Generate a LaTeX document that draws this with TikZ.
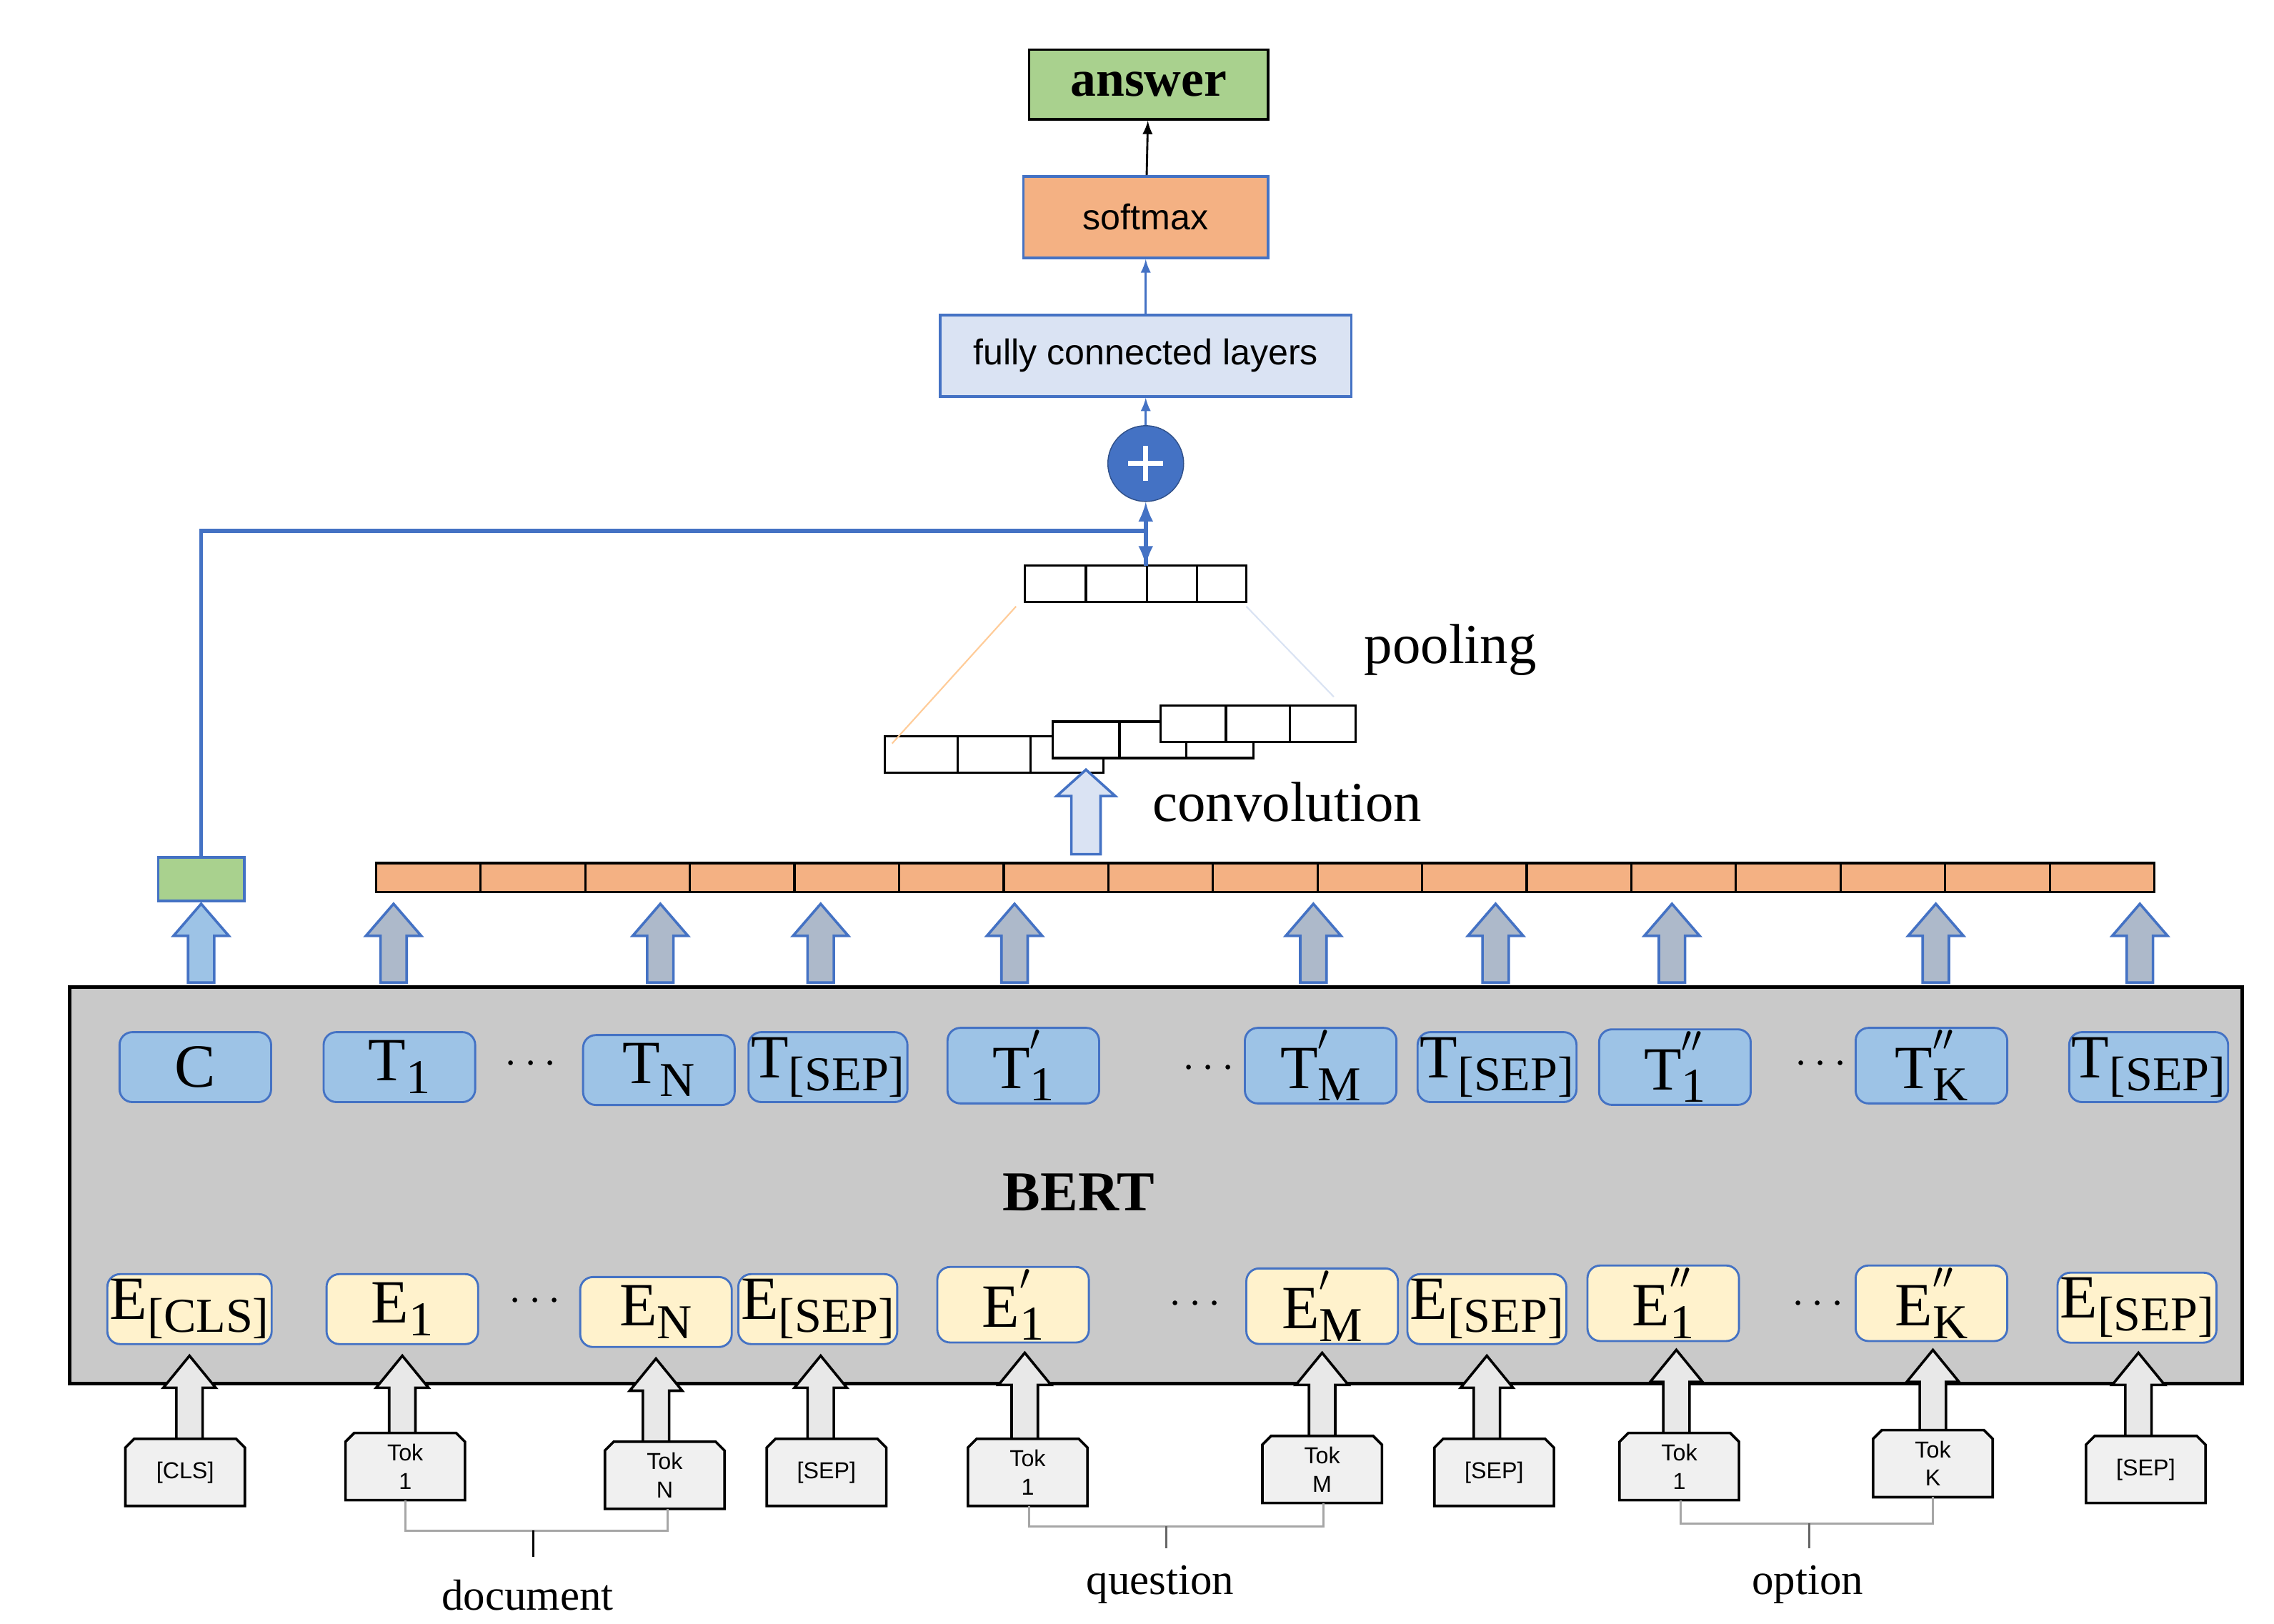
\documentclass[tikz,border=0pt]{standalone}
\usepackage{fontspec}
\setmainfont{Liberation Serif}
\setsansfont{Liberation Sans}
\definecolor{bblue}{HTML}{4472C4}
\definecolor{tfill}{HTML}{9DC3E6}
\definecolor{efill}{HTML}{FFF2CC}
\definecolor{ofill}{HTML}{F4B183}
\definecolor{gfill}{HTML}{A9D18E}
\definecolor{lfill}{HTML}{DAE3F3}
\definecolor{afill}{HTML}{ADB9CA}
\newcommand\tk[3]{#1\makebox[0pt][l]{\raisebox{0.75ex}{\fontsize{19}{19}\selectfont#2}}\raisebox{-0.45ex}{\fontsize{19}{19}\selectfont#3}}
\newcommand\hollowup[6]{% x, ybottom, ytop, halfshaft, halfhead, headlen
  (#1-#4,#2) -- (#1-#4,#3+#6) -- (#1-#5,#3+#6) -- (#1,#3) -- (#1+#5,#3+#6) -- (#1+#4,#3+#6) -- (#1+#4,#2) -- cycle}
\begin{document}
\begin{tikzpicture}[x=0.02cm,y=-0.02cm,
  tbox/.style={draw=bblue,fill=tfill,rounded corners=5pt,minimum width=2.08cm,minimum height=0.96cm,line width=0.8pt,font=\fontsize{24}{24}\selectfont,inner sep=1pt},
  ebox/.style={tbox,fill=efill},
  lbl/.style={font=\fontsize{22}{22}\selectfont},
  sbox/.style={draw=bblue,line width=1pt,font=\sffamily\fontsize{14}{14}\selectfont},
  cell/.style={draw=black,fill=white,line width=0.9pt},
  garr/.style={draw=bblue,fill=afill,line width=1pt},
  warr/.style={draw=black,fill=gray!18,line width=1pt},
  tok/.style={draw=black,fill=gray!12,line width=1pt},
  brk/.style={draw=gray!70,line width=0.8pt}]
\useasboundingbox (0,0) rectangle (1560,1114);
% top
\node[draw=black,fill=gfill,line width=1pt,minimum width=3.28cm,minimum height=0.96cm,font=\bfseries\fontsize{20}{20}\selectfont] (ans) at (788,58) {answer};
\node[sbox,fill=ofill,minimum width=3.36cm,minimum height=1.12cm] (soft) at (786,149) {softmax};
\node[sbox,fill=lfill,minimum width=5.64cm,minimum height=1.12cm] (fc) at (786,244) {fully connected layers};
\node[circle,fill=bblue,draw=bblue!70!black,minimum size=1.04cm,inner sep=0pt] (plus) at (786,318) {};
\draw[white,line width=2pt] (774,318) -- (798,318) (786,306) -- (786,330);
\draw[-latex,black,line width=0.8pt] (soft) -- (ans);
\draw[-latex,bblue,line width=0.8pt] (fc) -- (soft);
\draw[-latex,bblue,line width=0.8pt] (plus) -- (fc);
% pooling
\foreach \a/\b in {703/745,745/787,787/821,821/855}{\draw[cell] (\a,388) rectangle (\b,413);}
\coordinate (pooltop) at (786,388);
\draw[-latex,bblue,line width=1.6pt] (pooltop) -- (plus);
% conv
\foreach \a/\b in {607/657,657/707,707/757}{\draw[cell] (\a,505) rectangle (\b,530);}
\foreach \a/\b in {722/768,768/814,814/860}{\draw[cell] (\a,495) rectangle (\b,520);}
\foreach \a/\b in {796/841,841/885,885/930}{\draw[cell] (\a,484) rectangle (\b,509);}
\draw[orange!40,line width=0.6pt] (697,416) -- (612,510);
\draw[bblue!20,line width=0.6pt] (855,416) -- (915,478);
\node[lbl] (pool) at (995,446) {pooling};
\node[lbl] (conv) at (883,550) {convolution};
\draw[draw=bblue,fill=lfill,line width=1pt] \hollowup{745}{586}{528}{10}{20}{18};
% feature bar
\foreach \i in {0,...,16}{\draw[draw=black,fill=ofill,line width=0.9pt] ({258+\i*71.76},592) rectangle ({258+(\i+1)*71.76},612);}
\node[draw=bblue,fill=gfill,line width=1pt,minimum width=1.18cm,minimum height=0.6cm,inner sep=0pt] (cvec) at (138,603) {};
\draw[bblue,line width=1.6pt,-latex] (cvec.north) |- (786,364) -- (pooltop);
% BERT box
\draw[fill=gray!42,draw=black,line width=1.4pt] (48,677) rectangle (1538,949);
\node[font=\bfseries\fontsize{22}{22}\selectfont] (bert) at (740,818) {BERT};
% up arrows to feature bar
\draw[draw=bblue,fill=tfill,line width=1pt] \hollowup{138}{674}{620}{9}{19}{22};
\foreach \x in {270,453,563,696,901,1026,1147,1328,1468}{\draw[garr] \hollowup{\x}{674}{620}{9}{19}{22};}
% T row
\node[tbox] (c) at (134,732) {C};
\node[tbox] (t1) at (274,732) {\tk{T}{}{1}};
\node[tbox] (tn) at (452,734) {\tk{T}{}{N}};
\node[tbox] (ts1) at (568,732) {\tk{T}{}{[SEP]}};
\node[tbox] (tp1) at (702,731) {\tk{T}{$'$}{1}};
\node[tbox] (tpm) at (906,731) {\tk{T}{$'$}{M}};
\node[tbox] (ts2) at (1027,732) {\tk{T}{}{[SEP]}};
\node[tbox] (tq1) at (1149,732) {\tk{T}{$''$}{1}};
\node[tbox] (tqk) at (1325,731) {\tk{T}{$''$}{K}};
\node[tbox] (ts3) at (1474,732) {\tk{T}{}{[SEP]}};
\node[font=\fontsize{16}{16}\selectfont] (d1) at (364,730) {$\cdots$};
\node[font=\fontsize{16}{16}\selectfont] (d2) at (829,733) {$\cdots$};
\node[font=\fontsize{16}{16}\selectfont] (d3) at (1249,730) {$\cdots$};
% E row
\node[ebox] (ecls) at (130,898) {\tk{E}{}{[CLS]}};
\node[ebox] (e1) at (276,898) {\tk{E}{}{1}};
\node[ebox] (en) at (450,900) {\tk{E}{}{N}};
\node[ebox] (es1) at (561,898) {\tk{E}{}{[SEP]}};
\node[ebox] (ep1) at (695,895) {\tk{E}{$'$}{1}};
\node[ebox] (epm) at (907,896) {\tk{E}{$'$}{M}};
\node[ebox] (es2) at (1020,898) {\tk{E}{}{[SEP]}};
\node[ebox] (eq1) at (1141,894) {\tk{E}{$''$}{1}};
\node[ebox] (eqk) at (1325,894) {\tk{E}{$''$}{K}};
\node[ebox] (es3) at (1466,897) {\tk{E}{}{[SEP]}};
\node[font=\fontsize{16}{16}\selectfont] (d4) at (367,893) {$\cdots$};
\node[font=\fontsize{16}{16}\selectfont] (d5) at (820,895) {$\cdots$};
\node[font=\fontsize{16}{16}\selectfont] (d6) at (1247,895) {$\cdots$};
% input arrows
\foreach \x/\yt in {130/930,276/930,450/932,563/930,703/928,907/928,1020/930,1150/926,1326/926,1467/928}{\draw[warr] \hollowup{\x}{990}{\yt}{9}{18}{22};}
% token boxes
\foreach \x/\y/\t/\nm in {127/987/{[CLS]}/k1,278/983/{Tok\\1}/k2,456/989/{Tok\\N}/k3,567/987/{[SEP]}/k4,705/987/{Tok\\1}/k5,907/985/{Tok\\M}/k6,1025/987/{[SEP]}/k7,1152/983/{Tok\\1}/k8,1326/981/{Tok\\K}/k9,1472/985/{[SEP]}/k10}{
  \draw[tok] (\x-41,\y+46) -- (\x-41,\y+6) -- (\x-35,\y) -- (\x+35,\y) -- (\x+41,\y+6) -- (\x+41,\y+46) -- cycle;
  \node[font=\sffamily\fontsize{9}{11}\selectfont,align=center,inner sep=0pt] (\nm) at (\x,\y+23) {\t};
}
% brackets
\draw[brk] (278,1029) -- (278,1050) -- (458,1050) -- (458,1035);
\draw[black,line width=0.8pt] (366,1050) -- (366,1068);
\node[font=\fontsize{17}{17}\selectfont] (doc) at (362,1094) {document};
\draw[brk] (706,1033) -- (706,1047) -- (908,1047) -- (908,1031);
\draw[black!60,line width=0.8pt] (800,1047) -- (800,1062);
\node[font=\fontsize{17}{17}\selectfont] (que) at (796,1087) {question};
\draw[brk] (1153,1029) -- (1153,1045) -- (1326,1045) -- (1326,1027);
\draw[black!60,line width=0.8pt] (1241,1045) -- (1241,1062);
\node[font=\fontsize{17}{17}\selectfont] (opt) at (1240,1087) {option};
\end{tikzpicture}
\end{document}
